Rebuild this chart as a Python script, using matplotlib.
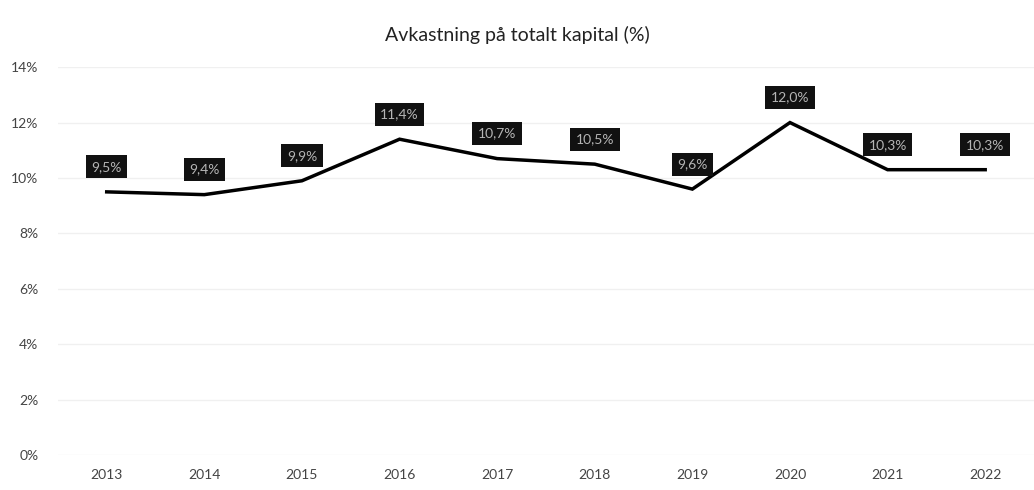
import matplotlib.pyplot as plt
from matplotlib.ticker import FuncFormatter

years = ['2013', '2014', '2015', '2016', '2017', '2018', '2019', '2020', '2021', '2022']
values = [9.5, 9.4, 9.9, 11.4, 10.7, 10.5, 9.6, 12.0, 10.3, 10.3]
labels = ['9,5%', '9,4%', '9,9%', '11,4%', '10,7%', '10,5%', '9,6%', '12,0%', '10,3%', '10,3%']

plt.rcParams['font.family'] = ['Lato', 'DejaVu Sans']

fig = plt.figure(figsize=(10.34, 4.9), dpi=100)
ax = fig.add_axes([0.056, 0.071, 0.944, 0.792])

x = list(range(len(years)))
ax.plot(x, values, color='black', linewidth=2.5, solid_joinstyle='miter', zorder=3)

for xi, v, lab in zip(x, values, labels):
    ax.annotate(lab, (xi, v), xytext=(0, 18), textcoords='offset points',
                ha='center', va='center', fontsize=10, color='#b5b5b5',
                bbox=dict(boxstyle='square,pad=0.4', fc='#111111', ec='none'),
                zorder=4)

ax.set_xlim(-0.5, len(years) - 0.5)
ax.set_ylim(0, 14)
ax.set_yticks([0, 2, 4, 6, 8, 10, 12, 14])
ax.yaxis.set_major_formatter(FuncFormatter(lambda v, p: '%d%%' % v))
ax.set_xticks(x)
ax.set_xticklabels(years)
ax.grid(axis='y', color='#f0f0f0', linewidth=1)
ax.set_axisbelow(True)
for s in ax.spines.values():
    s.set_visible(False)
ax.tick_params(length=0, labelsize=10, labelcolor='#444444')
ax.tick_params(axis='y', pad=14)
ax.tick_params(axis='x', pad=10)

fig.text(0.5, 0.928, 'Avkastning på totalt kapital (%)', ha='center', va='center',
         fontsize=14, color='#222222')

fig.savefig('out.png', dpi=100)
